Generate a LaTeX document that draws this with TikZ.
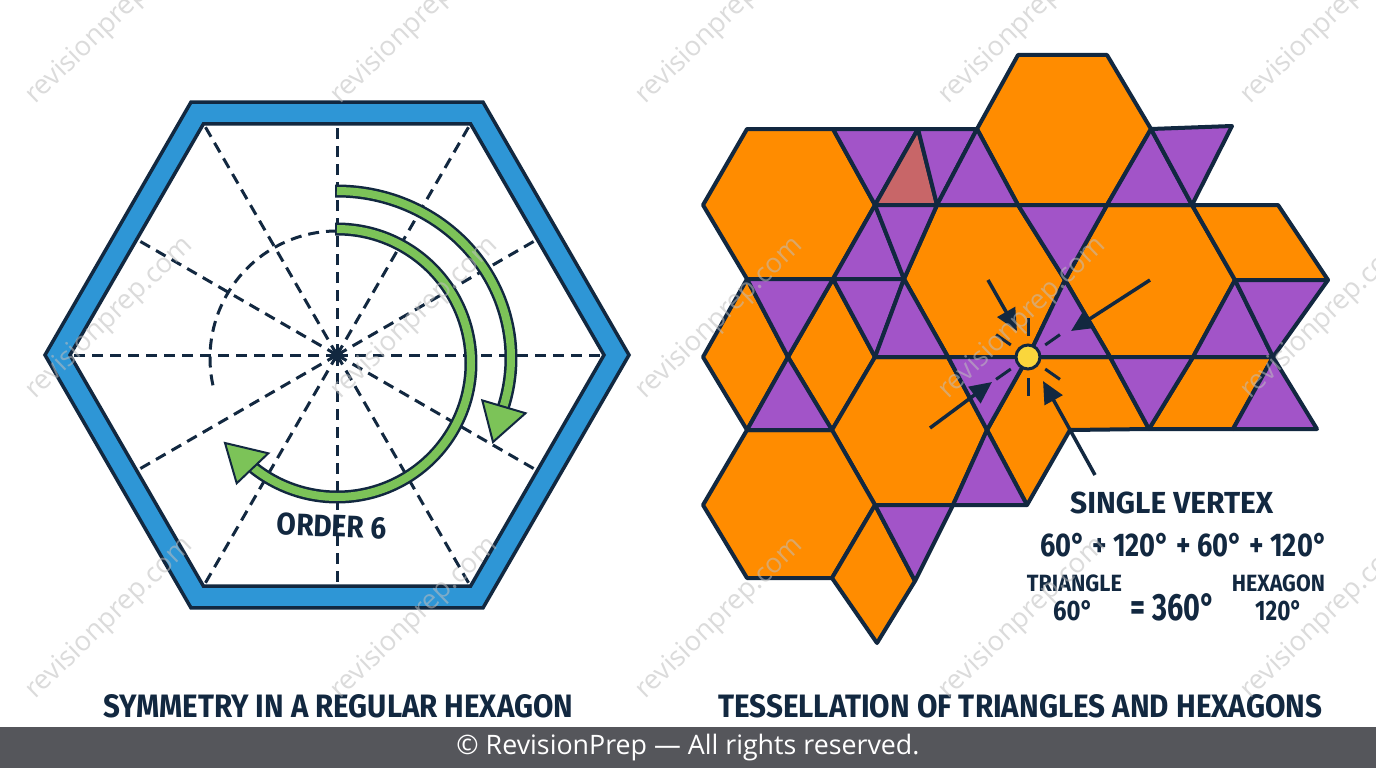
\documentclass[tikz,border=0pt]{standalone}
\usepackage{fontspec}
\usepackage{graphicx}
\setmainfont{Fira Sans}
\newfontfamily\footfont{Open Sans}
\usetikzlibrary{arrows.meta}
\definecolor{navy}{RGB}{18,40,64}
\definecolor{hexblue}{RGB}{46,150,214}
\definecolor{arrgreen}{RGB}{124,195,88}
\definecolor{tileorange}{RGB}{255,140,0}
\definecolor{tilepurple}{RGB}{162,84,200}
\definecolor{tilered}{RGB}{200,102,104}
\definecolor{dotyellow}{RGB}{250,214,60}
\definecolor{footgray}{RGB}{85,86,91}
\definecolor{wmgray}{RGB}{190,190,190}
\newcommand{\fitbox}[3]{\resizebox{#1pt}{#2pt}{\bfseries #3}}
\tikzset{
  symdash/.style={navy, line width=3pt, dash pattern=on 11pt off 7pt},
  hexline/.style={navy, line width=3.5pt, line join=miter},
  tile/.style={draw=navy, line width=4pt, line join=round},
  otile/.style={tile, fill=tileorange},
  ptile/.style={tile, fill=tilepurple},
  rtile/.style={tile, fill=tilered},
  pointer/.style={navy, line width=3.5pt, -{Triangle[length=22pt,width=20pt]}},
  vtick/.style={navy, line width=3pt},
  lbl/.style={inner sep=0pt, anchor=base west, text=navy},
  wm/.style={inner sep=0pt, anchor=base west, text=wmgray, text opacity=0.55, rotate=44},
  greenhead/.style={fill=arrgreen, draw=navy, line width=2pt, line join=miter}
}
\begin{document}
\begin{tikzpicture}[x=1pt,y=-1pt]
\useasboundingbox (0,0) rectangle (1376,768);
\fill[white] (0,0) rectangle (1376,768);

% ---------------- left: regular hexagon ----------------
\coordinate (C) at (337,355);
\fill[hexblue, even odd rule]
  (C) +(0:292) -- +(60:292) -- +(120:292) -- +(180:292) -- +(240:292) -- +(300:292) -- cycle
  (C) +(0:267) -- +(60:267) -- +(120:267) -- +(180:267) -- +(240:267) -- +(300:267) -- cycle;
\draw[hexline] (C) +(0:292) -- +(60:292) -- +(120:292) -- +(180:292) -- +(240:292) -- +(300:292) -- cycle;
\draw[hexline] (C) +(0:267) -- +(60:267) -- +(120:267) -- +(180:267) -- +(240:267) -- +(300:267) -- cycle;
\foreach \a in {0,60,...,300} \draw[symdash] (C) -- +(\a:265);
\foreach \a in {30,90,...,330} \draw[symdash] (C) -- +(\a:229);
\coordinate (G0) at (337,358);
\draw[symdash] (G0) ++(-90:127) arc[start angle=-90, end angle=-195, radius=127];
\fill[navy] (C) circle[radius=6];

% green arrows
\coordinate (G1) at (337,358);
\coordinate (G2) at (337,363);
\draw[navy, line width=13pt] (G1) ++(-90.6:174 and 167) arc[start angle=-90.6, end angle=17, x radius=174, y radius=167];
\draw[arrgreen, line width=8pt] (G1) ++(-90:174 and 167) arc[start angle=-90, end angle=17, x radius=174, y radius=167];
\coordinate (oh1) at (482.3,400.4);
\coordinate (oh2) at (525.5,413.2);
\coordinate (oht) at (493,442);
\draw[greenhead] (oh1) -- (oht) -- (oh2) -- cycle;
\draw[navy, line width=13pt] (G2) ++(-90.8:134) arc[start angle=-90.8, end angle=128.7, radius=134];
\draw[arrgreen, line width=8pt] (G2) ++(-90:134) arc[start angle=-90, end angle=128.7, radius=134];
\coordinate (ih1) at (236.7,483.3);
\coordinate (ih2) at (268.3,453.3);
\coordinate (iht) at (225,443);
\draw[greenhead] (ih1) -- (iht) -- (ih2) -- cycle;
\node[text=navy, rotate=-2, inner sep=0pt] (order) at (332,526) {\fitbox{110}{22}{ORDER 6}};

% ---------------- right: tessellation ----------------
\coordinate (a1) at (1018,55);  \coordinate (a2) at (1107,55);
\coordinate (b1) at (747,129);  \coordinate (b2) at (833,129);  \coordinate (b3) at (918,129);
\coordinate (b4) at (977,129);  \coordinate (b5) at (1151,129); \coordinate (b6) at (1232,126);
\coordinate (c1) at (703,205);  \coordinate (c2) at (875,205);  \coordinate (c3) at (937,205);
\coordinate (c4) at (1018,205); \coordinate (c5) at (1107,205); \coordinate (c6) at (1192,205);
\coordinate (c7) at (1278,205);
\coordinate (d1) at (747,279);  \coordinate (d2) at (833,279);  \coordinate (d3) at (904,279);
\coordinate (d4) at (1065,280); \coordinate (d5) at (1235,280); \coordinate (d6) at (1328,280);
\coordinate (e1) at (703,357);  \coordinate (e2) at (788,357);  \coordinate (e3) at (875,357);
\coordinate (e4) at (948,357);  \coordinate (e5) at (1028,357); \coordinate (e6) at (1110,357);
\coordinate (e7) at (1193,357); \coordinate (e8) at (1273,357);
\coordinate (f1) at (747,430);  \coordinate (f2) at (832,430);  \coordinate (f3) at (987,430);
\coordinate (f4) at (1070,430); \coordinate (f5) at (1149,429); \coordinate (f6) at (1233,429);
\coordinate (f7) at (1317,429);
\coordinate (g1) at (703,505);  \coordinate (g2) at (875,505);  \coordinate (g3) at (953,505);
\coordinate (g4) at (1027,505);
\coordinate (h1) at (747,578);  \coordinate (h2) at (832,578);  \coordinate (h3) at (915,581);
\coordinate (i1) at (877,643);

% hexagons and rhombi
\filldraw[otile] (a1) -- (a2) -- (b5) -- (c5) -- (c4) -- (b4) -- cycle;
\filldraw[otile] (b1) -- (b2) -- (c2) -- (d2) -- (d1) -- (c1) -- cycle;
\filldraw[otile] (c3) -- (c4) -- (d4) -- (e5) -- (e4) -- (d3) -- cycle;
\filldraw[otile] (c5) -- (c6) -- (d5) -- (e7) -- (e6) -- (d4) -- cycle;
\filldraw[otile] (c6) -- (c7) -- (d6) -- (d5) -- cycle;
\filldraw[otile] (d1) -- (e2) -- (f1) -- (e1) -- cycle;
\filldraw[otile] (d2) -- (e3) -- (f2) -- (e2) -- cycle;
\filldraw[otile] (e3) -- (e4) -- (f3) -- (g3) -- (g2) -- (f2) -- cycle;
\filldraw[otile] (e5) -- (e6) -- (f5) -- (f4) -- (g4) -- (f3) -- cycle;
\filldraw[otile] (e7) -- (e8) -- (f6) -- (f5) -- cycle;
\filldraw[otile] (f1) -- (f2) -- (g2) -- (h2) -- (h1) -- (g1) -- cycle;
\filldraw[otile] (g2) -- (h3) -- (i1) -- (h2) -- cycle;
% triangles
\filldraw[ptile] (b2) -- (b3) -- (c2) -- cycle;
\filldraw[rtile] (b3) -- (c2) -- (c3) -- cycle;
\filldraw[ptile] (b3) -- (b4) -- (c3) -- cycle;
\filldraw[ptile] (b4) -- (c3) -- (c4) -- cycle;
\filldraw[ptile] (b5) -- (c5) -- (c6) -- cycle;
\filldraw[ptile] (b5) -- (b6) -- (c6) -- cycle;
\filldraw[ptile] (c2) -- (d2) -- (d3) -- cycle;
\filldraw[ptile] (c2) -- (c3) -- (d3) -- cycle;
\filldraw[ptile] (c4) -- (c5) -- (d4) -- cycle;
\filldraw[ptile] (d1) -- (d2) -- (e2) -- cycle;
\filldraw[ptile] (d2) -- (d3) -- (e3) -- cycle;
\filldraw[ptile] (d3) -- (e3) -- (e4) -- cycle;
\filldraw[ptile] (d4) -- (e5) -- (e6) -- cycle;
\filldraw[ptile] (d5) -- (e7) -- (e8) -- cycle;
\filldraw[ptile] (d5) -- (d6) -- (e8) -- cycle;
\filldraw[ptile] (e2) -- (f1) -- (f2) -- cycle;
\filldraw[ptile] (e4) -- (e5) -- (f3) -- cycle;
\filldraw[ptile] (e6) -- (e7) -- (f5) -- cycle;
\filldraw[ptile] (e8) -- (f7) -- (f6) -- cycle;
\filldraw[ptile] (f3) -- (g3) -- (g4) -- cycle;
\filldraw[ptile] (g2) -- (g3) -- (h3) -- cycle;

% vertex marker
\foreach \a in {-90,-145,-35,145,35,90} \draw[vtick] (e5) ++(\a:21) -- ++(\a:18);
\coordinate (p1) at (988,280);
\coordinate (p2) at (1150,280);
\coordinate (p3) at (930,428);
\coordinate (p4) at (1095,475);
\coordinate (q1) at (1017,331);
\coordinate (q2) at (1071,331);
\coordinate (q3) at (992,382);
\coordinate (q4) at (1043,381);
\draw[pointer] (p1) -- (q1);
\draw[pointer] (p2) -- (q2);
\draw[pointer] (p3) -- (q3);
\draw[pointer] (p4) -- (q4);
\filldraw[fill=dotyellow, draw=navy, line width=3pt] (e5) circle[radius=12];

% labels
\node[lbl] (sv)  at (1070,513.3) {\fitbox{203}{21.6}{SINGLE VERTEX}};
\node[lbl] (sum) at (1040,556.7) {\fitbox{287}{23.3}{60° + 120° + 60° + 120°}};
\node[lbl] (tri) at (1026.7,591.7) {\fitbox{95}{16.7}{TRIANGLE}};
\node[lbl] (tri60) at (1053,620) {\fitbox{40}{20}{60°}};
\node[lbl] (tot) at (1130,620) {\fitbox{85}{27}{= 360°}};
\node[lbl] (hexl) at (1231.7,591.7) {\fitbox{93}{16.7}{HEXAGON}};
\node[lbl] (hex120) at (1255,620) {\fitbox{47}{20}{120°}};

% titles
\node[lbl] (titleL) at (103,717) {\fitbox{470}{23}{SYMMETRY IN A REGULAR HEXAGON}};
\node[lbl] (titleR) at (718,717) {\fitbox{604}{23}{TESSELLATION OF TRIANGLES AND HEXAGONS}};

% watermarks
\foreach \sx in {35,340,645,948,1250}
  \foreach \sy in {105,400,700}
    \node[wm] at (\sx,\sy) {\footfont\resizebox{220pt}{!}{revisionprep.com}};

% footer
\fill[footgray] (0,727) rectangle (1376,768);
\node[text=white, inner sep=0pt] (foot) at (688,748) {\footfont\resizebox{463pt}{!}{© RevisionPrep — All rights reserved.}};
\end{tikzpicture}
\end{document}
